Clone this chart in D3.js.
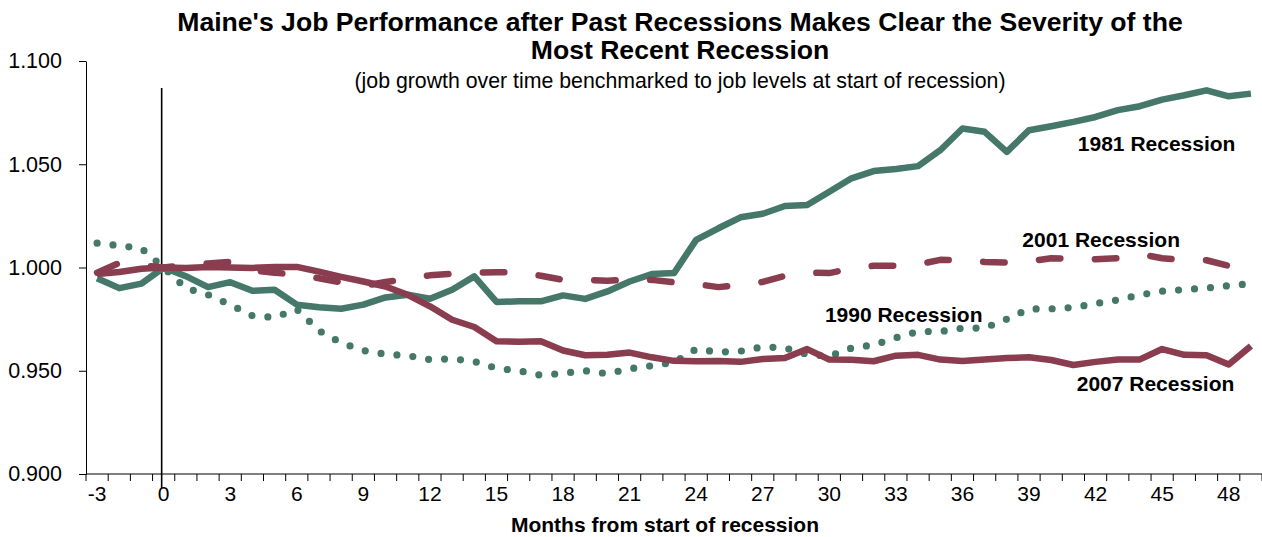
<!DOCTYPE html>
<html>
<head>
<meta charset="utf-8">
<script src="https://cdn.jsdelivr.net/npm/d3@7"></script>
<style>
  body { margin: 0; background: #fff; }
  svg { display: block; font-family: Arial, "Liberation Sans", sans-serif; }
</style>
</head>
<body>
<div id="chart"></div>
<script>
// months from start of recession (-3 .. 49)
const months = d3.range(-3, 50);

// jobs relative to the level at the start of each recession
const rec1981 = [0.9948, 0.9900, 0.9922, 1.0000, 0.9958, 0.9905, 0.9929, 0.9887, 0.9892, 0.9820,
  0.9808, 0.9800, 0.9820, 0.9855, 0.9868, 0.9849, 0.9892, 0.9957, 0.9833, 0.9836,
  0.9836, 0.9865, 0.9848, 0.9884, 0.9932, 0.9968, 0.9973, 1.0134, 1.0190, 1.0243,
  1.0260, 1.0298, 1.0303, 1.0367, 1.0432, 1.0467, 1.0477, 1.0491, 1.0568, 1.0673,
  1.0657, 1.0560, 1.0665, 1.0684, 1.0705, 1.0729, 1.0762, 1.0781, 1.0813, 1.0834,
  1.0858, 1.0829, 1.0842];

const rec1990 = [1.0118, 1.0106, 1.0092, 1.0000, 0.9900, 0.9868, 0.9820, 0.9766, 0.9758, 0.9798,
  0.9694, 0.9635, 0.9598, 0.9580, 0.9573, 0.9554, 0.9558, 0.9545, 0.9512, 0.9500,
  0.9478, 0.9488, 0.9500, 0.9486, 0.9510, 0.9524, 0.9540, 0.9605, 0.9590, 0.9595,
  0.9616, 0.9610, 0.9580, 0.9570, 0.9610, 0.9625, 0.9660, 0.9690, 0.9690, 0.9706,
  0.9707, 0.9750, 0.9799, 0.9800, 0.9806, 0.9825, 0.9843, 0.9867, 0.9885, 0.9893,
  0.9900, 0.9912, 0.9922];

// 2001 series stops at month 48
const rec2001 = [0.9975, 1.0022, 1.0010, 1.0000, 1.0012, 1.0020, 1.0027, 0.9985, 0.9975, 0.9965,
  0.9948, 0.9928, 0.9910, 0.9930, 0.9945, 0.9962, 0.9970, 0.9975, 0.9977, 0.9977,
  0.9960, 0.9940, 0.9940, 0.9936, 0.9942, 0.9940, 0.9928, 0.9920, 0.9905, 0.9915,
  0.9930, 0.9960, 0.9975, 0.9973, 0.9995, 1.0008, 1.0008, 1.0015, 1.0037, 1.0035,
  1.0027, 1.0024, 1.0030, 1.0045, 1.0042, 1.0040, 1.0045, 1.0065, 1.0045, 1.0037,
  1.0035, 1.0008];

const rec2007 = [0.9968, 0.9978, 0.9994, 1.0000, 0.9998, 1.0003, 1.0000, 0.9998, 1.0002, 1.0003,
  0.9980, 0.9955, 0.9932, 0.9908, 0.9868, 0.9812, 0.9747, 0.9712, 0.9643, 0.9641,
  0.9643, 0.9598, 0.9575, 0.9577, 0.9588, 0.9565, 0.9548, 0.9546, 0.9547, 0.9543,
  0.9557, 0.9562, 0.9605, 0.9554, 0.9553, 0.9546, 0.9573, 0.9577, 0.9554, 0.9547,
  0.9555, 0.9562, 0.9565, 0.9552, 0.9528, 0.9543, 0.9554, 0.9555, 0.9605, 0.9577,
  0.9575, 0.9530, 0.9620];

const yTicks = [0.900, 0.950, 1.000, 1.050, 1.100];
const xTickLabels = d3.range(-3, 49, 3);

const seriesNames = ["1981 Recession", "1990 Recession", "2001 Recession", "2007 Recession"];

const width = 1262, height = 537;
const green = "#46786a", maroon = "#8a3d4f";

const svg = d3.select("#chart").append("svg")
  .attr("width", width)
  .attr("height", height);

// plot box
const plotLeft = 86, plotRight = 1262, plotTop = 61, plotBottom = 474;

const x = d3.scaleBand().domain(months).range([plotLeft, plotRight]).paddingInner(0).paddingOuter(0);
const cx = m => x(m) + x.bandwidth() / 2;
const y = d3.scaleLinear().domain([0.9, 1.1]).range([plotBottom, plotTop]);

// titles
svg.append("text")
  .attr("x", 680).attr("y", 31)
  .attr("text-anchor", "middle")
  .style("font-size", "26.6px").style("font-weight", "bold")
  .text("Maine's Job Performance after Past Recessions Makes Clear the Severity of the");
svg.append("text")
  .attr("x", 680).attr("y", 59)
  .attr("text-anchor", "middle")
  .style("font-size", "26.6px").style("font-weight", "bold")
  .text("Most Recent Recession");
svg.append("text")
  .attr("x", 680).attr("y", 88)
  .attr("text-anchor", "middle")
  .style("font-size", "21.3px")
  .text("(job growth over time benchmarked to job levels at start of recession)");

// y axis
const yAxis = svg.append("g")
  .attr("transform", `translate(${plotLeft},0)`)
  .call(d3.axisLeft(y).tickValues(yTicks).tickFormat(d3.format(".3f"))
    .tickSize(7).tickSizeOuter(0).tickPadding(17));
yAxis.select(".domain").attr("stroke", "#000");
yAxis.selectAll(".tick line").attr("stroke", "#000");
yAxis.selectAll("text").style("font-size", "21.5px").style("font-family", "Arial, 'Liberation Sans', sans-serif")
  .attr("fill", "#000");

// x axis: line, a tick at every category boundary, labels every 3 months
const xAxis = svg.append("g");
xAxis.append("line")
  .attr("x1", plotLeft).attr("x2", plotRight)
  .attr("y1", plotBottom).attr("y2", plotBottom)
  .attr("stroke", "#000");
xAxis.selectAll(".minor")
  .data(months.concat([null]))
  .join("line")
  .attr("class", "minor")
  .attr("x1", d => d === null ? plotRight : x(d))
  .attr("x2", d => d === null ? plotRight : x(d))
  .attr("y1", plotBottom).attr("y2", plotBottom + 7)
  .attr("stroke", "#000");
xAxis.selectAll(".lbl")
  .data(xTickLabels)
  .join("text")
  .attr("class", "lbl")
  .attr("x", d => cx(d))
  .attr("y", plotBottom + 27)
  .attr("text-anchor", "middle")
  .style("font-size", "21px")
  .text(d => d);

svg.append("text")
  .attr("x", 665).attr("y", 532)
  .attr("text-anchor", "middle")
  .style("font-size", "21px").style("font-weight", "bold")
  .text("Months from start of recession");

// marker at the start of the recession
svg.append("line")
  .attr("x1", cx(0) - 2).attr("x2", cx(0) - 2)
  .attr("y1", 88).attr("y2", 488)
  .attr("stroke", "#000").attr("stroke-width", 1.6);

// series lines
const line = d3.line()
  .x((d, i) => cx(months[i]))
  .y(d => y(d));

const series = [
  { name: seriesNames[0], values: rec1981, color: green, dash: null, w: 6.5 },
  { name: seriesNames[1], values: rec1990, color: green, dash: "0,16", w: 7.2 },
  { name: seriesNames[2], values: rec2001, color: maroon, dash: "21.5,34.5", w: 6.5 },
  { name: seriesNames[3], values: rec2007, color: maroon, dash: null, w: 6.5 }
];

svg.append("g")
  .selectAll("path")
  .data(series)
  .join("path")
  .attr("d", d => line(d.values))
  .attr("fill", "none")
  .attr("stroke", d => d.color)
  .attr("stroke-width", d => d.w)
  .attr("stroke-linejoin", "round")
  .attr("stroke-linecap", d => d.dash ? "round" : "butt")
  .attr("stroke-dasharray", d => d.dash);

// series labels, anchored in data space (month, value of the text baseline)
const labelSpots = [
  { name: seriesNames[0], month: 41.2, value: 1.0562 },
  { name: seriesNames[2], month: 38.7, value: 1.0101 },
  { name: seriesNames[1], month: 29.8, value: 0.9738 },
  { name: seriesNames[3], month: 41.15, value: 0.9400 }
];
svg.append("g")
  .selectAll("text")
  .data(labelSpots)
  .join("text")
  .attr("x", d => cx(-3) + (d.month + 3) * x.step())
  .attr("y", d => y(d.value))
  .style("font-size", "21px").style("font-weight", "bold")
  .text(d => d.name);
</script>
</body>
</html>
